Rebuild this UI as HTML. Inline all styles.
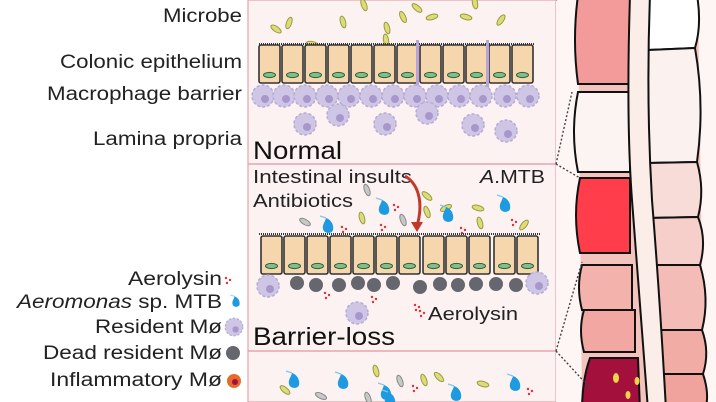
<!DOCTYPE html>
<html><head><meta charset="utf-8"><style>
html,body{margin:0;padding:0;background:#fff;}
svg{display:block;font-family:"Liberation Sans",Arial,sans-serif;}
</style></head><body>
<svg width="716" height="402" viewBox="0 0 716 402" xmlns="http://www.w3.org/2000/svg">
<defs>
<g id="cell"><rect x="0" y="0" width="21" height="38" rx="2" fill="#f6d7ad" stroke="#333" stroke-width="1.6"/><ellipse cx="10.5" cy="30" rx="6" ry="2.6" fill="#7fc08a" stroke="#2f5d3a" stroke-width="1"/></g>
<g id="mac"><circle r="11" fill="#cfc6e6" stroke="#b6abd6" stroke-width="1.5" stroke-dasharray="3 2"/><circle cx="2" cy="3" r="4" fill="#a797cc"/></g>
<g id="dead"><circle r="7" fill="#66666e"/></g>
<ellipse id="mb" rx="6" ry="2.6" fill="#dcdc78" stroke="#9a9a40" stroke-width="1"/>
<ellipse id="gb" rx="6" ry="2.6" fill="#c8c8c8" stroke="#888" stroke-width="1"/>
<g id="aer"><path d="M-2 -8 C 4 -6 6 0 5 4 C 4 8 -4 8 -5 3 C -6 -1 -3 -4 -2 -8Z" fill="#1e9be0"/><path d="M-2 -8 L-8 -10" stroke="#7cc8f0" stroke-width="1.2"/></g>
<g id="tox" fill="#e0303a"><circle cx="0" cy="0" r="1.2"/><circle cx="4" cy="2" r="1.2"/><circle cx="1" cy="5" r="1.2"/></g>
</defs>

<!-- Left labels -->
<g font-size="19" fill="#222" lengthAdjust="spacingAndGlyphs">
<text x="163" y="22" textLength="79" lengthAdjust="spacingAndGlyphs">Microbe</text>
<text x="60" y="68" textLength="182" lengthAdjust="spacingAndGlyphs">Colonic epithelium</text>
<text x="47" y="100" textLength="195" lengthAdjust="spacingAndGlyphs">Macrophage barrier</text>
<text x="93" y="145" textLength="149" lengthAdjust="spacingAndGlyphs">Lamina propria</text>
<text x="128" y="285" textLength="94" lengthAdjust="spacingAndGlyphs">Aerolysin</text>
<text x="17" y="308" textLength="205" lengthAdjust="spacingAndGlyphs"><tspan font-style="italic">Aeromonas</tspan> sp. MTB</text>
<text x="95" y="333" textLength="127" lengthAdjust="spacingAndGlyphs">Resident Mø</text>
<text x="43" y="359" textLength="179" lengthAdjust="spacingAndGlyphs">Dead resident Mø</text>
<text x="50" y="386" textLength="172" lengthAdjust="spacingAndGlyphs">Inflammatory Mø</text>
</g>
<use href="#tox" x="226" y="278"/>
<use href="#aer" transform="translate(236,302) scale(0.7)"/>
<use href="#mac" transform="translate(234,327) scale(0.8)"/>
<use href="#dead" transform="translate(233,353)"/>
<circle cx="234" cy="381" r="7" fill="#e86a2a"/><circle cx="235" cy="382" r="3" fill="#a0104a"/>

<!-- Panels -->
<rect x="248" y="0" width="308" height="402" fill="#fdf2f2" stroke="#e3a4ad" stroke-width="1.2"/>
<line x1="248" y1="164" x2="556" y2="164" stroke="#e3a4ad" stroke-width="1.5"/>
<line x1="248" y1="351" x2="556" y2="351" stroke="#e3a4ad" stroke-width="1.5"/>

<!-- Normal panel microbes -->
<g>
<use href="#mb" transform="translate(289,23) rotate(-70)"/>
<use href="#mb" transform="translate(276,29) rotate(35)"/>
<use href="#mb" transform="translate(312,44) rotate(10)"/>
<use href="#mb" transform="translate(343,22) rotate(75)"/>
<use href="#mb" transform="translate(364,5) rotate(70)"/>
<use href="#mb" transform="translate(387,28) rotate(75)"/>
<use href="#mb" transform="translate(403,17) rotate(65)"/>
<use href="#mb" transform="translate(417,8) rotate(40)"/>
<use href="#mb" transform="translate(432,17) rotate(-15)"/>
<use href="#mb" transform="translate(466,17) rotate(15)"/>
<use href="#mb" transform="translate(475,3) rotate(80)"/>
<use href="#mb" transform="translate(501,20) rotate(-55)"/>
<use href="#mb" transform="translate(386,40) rotate(80)"/>
</g>
<!-- Normal cells -->
<line x1="259" y1="44" x2="535" y2="44" stroke="#333" stroke-width="2" stroke-dasharray="1 1"/>
<use href="#cell" x="259" y="45"/><use href="#cell" x="282" y="45"/><use href="#cell" x="305" y="45"/><use href="#cell" x="328" y="45"/>
<use href="#cell" x="351" y="45"/><use href="#cell" x="374" y="45"/><use href="#cell" x="397" y="45"/><use href="#cell" x="420" y="45"/>
<use href="#cell" x="443" y="45"/><use href="#cell" x="466" y="45"/><use href="#cell" x="489" y="45"/><use href="#cell" x="512" y="45"/>
<line x1="417.5" y1="40" x2="417.5" y2="90" stroke="#b9a4d8" stroke-width="3"/>
<line x1="487.5" y1="40" x2="487.5" y2="90" stroke="#b9a4d8" stroke-width="3"/>
<g>
<use href="#mac" x="263" y="96"/><use href="#mac" x="284" y="96"/><use href="#mac" x="305" y="96"/><use href="#mac" x="327" y="96"/>
<use href="#mac" x="349" y="96"/><use href="#mac" x="371" y="96"/><use href="#mac" x="393" y="96"/><use href="#mac" x="415" y="96"/>
<use href="#mac" x="437" y="96"/><use href="#mac" x="459" y="96"/><use href="#mac" x="481" y="96"/><use href="#mac" x="505" y="96"/><use href="#mac" x="528" y="96"/>
<use href="#mac" x="305" y="124"/><use href="#mac" x="338" y="115"/><use href="#mac" x="385" y="124"/><use href="#mac" x="427" y="113"/>
<use href="#mac" x="473" y="125"/><use href="#mac" x="506" y="131"/>
</g>
<text x="253" y="159" font-size="25" fill="#111" textLength="89" lengthAdjust="spacingAndGlyphs">Normal</text>

<!-- Barrier-loss panel -->
<text x="253" y="183" font-size="18" fill="#222" textLength="159" lengthAdjust="spacingAndGlyphs">Intestinal insults</text>
<text x="253" y="207" font-size="18" fill="#222" textLength="100" lengthAdjust="spacingAndGlyphs">Antibiotics</text>
<text x="480" y="183" font-size="18" fill="#222" textLength="65" lengthAdjust="spacingAndGlyphs"><tspan font-style="italic">A</tspan>.MTB</text>
<path d="M405 176 C 420 185 423 205 417 226" stroke="#c0392b" stroke-width="3" fill="none"/>
<path d="M411 222 L417 232 L423 222Z" fill="#c0392b"/>
<g>
<use href="#gb" transform="translate(367,190) rotate(70)"/>
<use href="#gb" transform="translate(305,222) rotate(30)"/>
<use href="#gb" transform="translate(403,220) rotate(70)"/>
<use href="#mb" transform="translate(427,196) rotate(40)"/>
<use href="#mb" transform="translate(427,212) rotate(70)"/>
<use href="#mb" transform="translate(446,208) rotate(-25)"/>
<use href="#mb" transform="translate(362,218) rotate(75)"/>
<use href="#mb" transform="translate(478,208) rotate(15)"/>
<use href="#mb" transform="translate(480,223) rotate(75)"/>
<use href="#mb" transform="translate(524,225) rotate(-50)"/>
<use href="#aer" x="328" y="226"/><use href="#aer" x="384" y="208"/><use href="#aer" x="448" y="215"/><use href="#aer" x="505" y="205"/>
<use href="#tox" x="342" y="227"/><use href="#tox" x="394" y="205"/><use href="#tox" x="381" y="225"/><use href="#tox" x="461" y="228"/><use href="#tox" x="512" y="220"/>
</g>
<line x1="259" y1="234" x2="540" y2="234" stroke="#333" stroke-width="2" stroke-dasharray="1 1"/>
<use href="#cell" x="261" y="236"/><use href="#cell" x="284" y="236"/><use href="#cell" x="307" y="236"/><use href="#cell" x="330" y="236"/>
<use href="#cell" x="353" y="236"/><use href="#cell" x="376" y="236"/><use href="#cell" x="399" y="236"/><use href="#cell" x="423" y="236"/>
<use href="#cell" x="446" y="236"/><use href="#cell" x="469" y="236"/><use href="#cell" x="494" y="236"/><use href="#cell" x="517" y="236"/>
<g>
<use href="#mac" x="268" y="286"/><use href="#mac" x="537" y="283"/>
<use href="#dead" x="297" y="283"/><use href="#dead" x="316" y="285"/><use href="#dead" x="339" y="285"/><use href="#dead" x="358" y="283"/>
<use href="#dead" x="374" y="285"/><use href="#dead" x="393" y="283"/><use href="#dead" x="420" y="287"/><use href="#dead" x="440" y="284"/>
<use href="#dead" x="458" y="285"/><use href="#dead" x="476" y="284"/><use href="#dead" x="496" y="284"/><use href="#dead" x="516" y="285"/>
<use href="#mac" x="357" y="313"/>
<use href="#tox" x="325" y="293"/><use href="#tox" x="372" y="297"/><use href="#tox" x="415" y="305"/><use href="#tox" x="420" y="311"/>
</g>
<text x="428" y="320" font-size="18" fill="#222" textLength="90" lengthAdjust="spacingAndGlyphs">Aerolysin</text>
<text x="253" y="345" font-size="25" fill="#111" textLength="142" lengthAdjust="spacingAndGlyphs">Barrier-loss</text>

<!-- third panel microbes -->
<g>
<use href="#aer" x="294" y="381"/><use href="#aer" x="343" y="382"/><use href="#aer" x="386" y="393"/><use href="#aer" x="456" y="394"/><use href="#aer" x="515" y="384"/><use href="#aer" x="390" y="400"/>
<use href="#mb" transform="translate(285,390) rotate(40)"/>
<use href="#gb" transform="translate(321,396) rotate(25)"/>
<use href="#mb" transform="translate(376,371) rotate(75)"/>
<use href="#gb" transform="translate(400,381) rotate(70)"/>
<use href="#mb" transform="translate(424,380) rotate(70)"/>
<use href="#mb" transform="translate(439,377) rotate(45)"/>
<use href="#mb" transform="translate(483,384) rotate(15)"/>
<use href="#gb" transform="translate(368,398) rotate(70)"/>
<use href="#tox" x="413" y="386"/><use href="#tox" x="528" y="389"/>
</g>

<!-- Colon -->
<rect x="556" y="0" width="160" height="402" fill="#fdf6f5"/>
<path d="M578 -5 L698 -5 L704 410 L582 410Z" fill="#f3c4be"/>
<g stroke="#111" stroke-width="2">
<path d="M648 -5 L697 -5 Q702 25 695 48 L648 50Z" fill="#ffffff"/>
<path d="M648 50 L695 48 Q705 105 697 162 L648 163Z" fill="#fbf2f0"/>
<path d="M648 163 L697 162 Q705 190 698 217 L648 218Z" fill="#f8dcd8"/>
<path d="M648 218 L698 217 Q707 240 700 265 L648 265Z" fill="#f6cfcb"/>
<path d="M648 265 L700 265 Q710 298 702 330 L648 330Z" fill="#f4bcb6"/>
<path d="M648 330 L702 330 Q710 352 703 374 L648 374Z" fill="#f2aca6"/>
<path d="M648 374 L703 374 Q710 395 705 410 L648 410Z" fill="#f0a29c"/>
<path d="M578 -5 L630 -5 L630 84 L578 84 Q572 40 578 -5Z" fill="#f39b9b"/>
<path d="M578 92 L630 92 L630 172 L578 172 Q570 132 578 92Z" fill="#fbf4f2"/>
<path d="M580 178 L630 178 L630 253 L580 253 Q572 215 580 178Z" fill="#ff3d4b"/>
<path d="M582 265 L632 265 L632 310 L582 310 Q576 287 582 265Z" fill="#f4b2ad"/>
<path d="M584 310 L635 310 L635 352 L584 352 Q578 330 584 310Z" fill="#f3a7a2"/>
<path d="M590 358 L638 358 L640 410 L582 410 Q582 380 590 358Z" fill="#a3103c"/>
<path d="M630 -5 Q626 120 632 200 Q640 300 648 410 L666 410 Q660 300 652 200 Q646 100 650 -5Z" fill="#fbeee8"/>
</g>
<g fill="#f2d24a"><ellipse cx="616" cy="378" rx="3" ry="5"/><ellipse cx="637" cy="381" rx="2.5" ry="4"/><ellipse cx="628" cy="395" rx="2.5" ry="4"/></g>
<g stroke="#444" stroke-width="1.4" stroke-dasharray="2 2" fill="none">
<path d="M556 164 L572 92"/><path d="M556 164 L580 178"/>
<path d="M556 351 L582 262"/><path d="M556 351 L590 388"/>
<path d="M556 0 L566 -5"/>
</g>
</svg>
</body></html>
